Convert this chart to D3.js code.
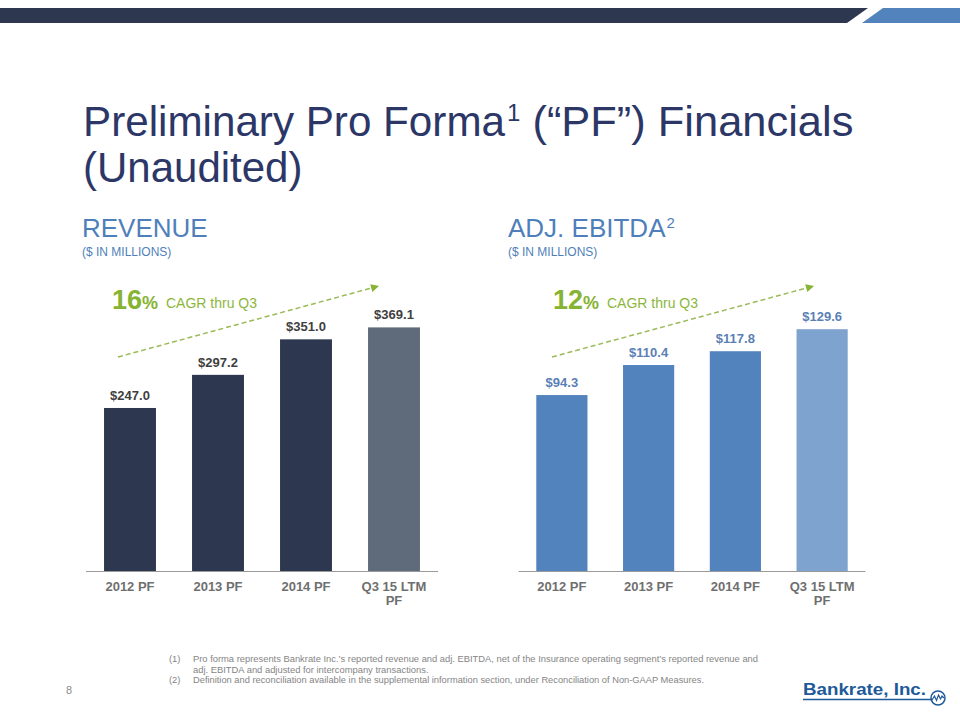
<!DOCTYPE html>
<html><head><meta charset="utf-8">
<script src="https://cdn.jsdelivr.net/npm/d3@7"></script>
<style>html,body{margin:0;padding:0;background:#fff;}svg{display:block;font-family:"Liberation Sans",Arial,sans-serif;}</style>
</head><body>
<script>
const categories = ["2012 PF", "2013 PF", "2014 PF", "Q3 15 LTM PF"];
const revenueValues = [247.0, 297.2, 351.0, 369.1];
const ebitdaValues = [94.3, 110.4, 117.8, 129.6];
const revenueCagr = "16";
const ebitdaCagr = "12";
const footnotes = [
  ["(1)", "Pro forma represents Bankrate Inc.’s reported revenue and adj. EBITDA, net of the Insurance operating segment’s reported revenue and"],
  ["", "adj. EBITDA and adjusted for intercompany transactions."],
  ["(2)", "Definition and reconciliation available in the supplemental information section, under Reconciliation of Non-GAAP Measures."]
];

const W = 960, H = 720;
const svg = d3.select("body").append("svg").attr("width", W).attr("height", H);

// top banner
svg.append("path").attr("d", "M0,8 L868,8 L847,23 L0,23 Z").attr("fill", "#2d3850");
svg.append("path").attr("d", "M883,8 L960,8 L960,23 L862,23 Z").attr("fill", "#5283bd");

// title
const t1 = svg.append("text").attr("x", 83).attr("y", 136).attr("fill", "#2c3767").attr("font-size", 42);
t1.append("tspan").attr("textLength", 422).attr("lengthAdjust", "spacingAndGlyphs").text("Preliminary Pro Forma");
t1.append("tspan").attr("font-size", 24).attr("dx", 2).attr("dy", -15).text("1");
t1.append("tspan").attr("dy", 15).attr("textLength", 333).attr("lengthAdjust", "spacingAndGlyphs").text(" (“PF”) Financials");
svg.append("text").attr("x", 83).attr("y", 182).attr("fill", "#2c3767").attr("font-size", 42).text("(Unaudited)");

function drawChart(cfg) {
  const g = svg.append("g");
  // heading
  const ht = g.append("text").attr("x", cfg.hx).attr("y", 237).attr("fill", "#4f7fba").attr("font-size", 26)
    .text(cfg.heading);
  if (cfg.sup) {
    const w = ht.node().getComputedTextLength();
    g.append("text").attr("x", cfg.hx + w + 1).attr("y", 228).attr("fill", "#4f7fba")
      .attr("font-size", 15).text(cfg.sup);
  }
  g.append("text").attr("x", cfg.hx).attr("y", 256).attr("fill", "#4f7fba").attr("font-size", 12)
    .text("($ IN MILLIONS)");

  const x = d3.scaleBand().domain(categories).range(cfg.xr).paddingInner(0.41).paddingOuter(0.205);
  const y = d3.scaleLinear().domain(cfg.domain).range([571, cfg.ytop]);

  g.selectAll("rect.bar").data(cfg.values).join("rect").attr("class", "bar")
    .attr("x", (d, i) => x(categories[i])).attr("width", x.bandwidth())
    .attr("y", d => y(d)).attr("height", d => y(0) - y(d))
    .attr("fill", (d, i) => i === 3 ? cfg.last : cfg.color);

  g.selectAll("text.val").data(cfg.values).join("text").attr("class", "val")
    .attr("x", (d, i) => x(categories[i]) + x.bandwidth() / 2).attr("y", d => y(d) - 8)
    .attr("text-anchor", "middle").attr("font-size", 13).attr("font-weight", "bold")
    .attr("fill", cfg.labelColor).text(d => "$" + d.toFixed(1));

  const ax = g.append("g").attr("transform", "translate(0,571)")
    .call(d3.axisBottom(x).tickSize(0).tickPadding(0));
  ax.select(".domain").attr("stroke", "#9a9a9a").attr("d", `M${cfg.xr[0]},0.5H${cfg.xr[1]}`);
  ax.selectAll(".tick text").attr("font-size", 13).attr("font-weight", "bold").attr("fill", "#6f6f6f")
    .attr("font-family", "Liberation Sans, Arial, sans-serif")
    .each(function(d) {
      const t = d3.select(this); t.text(null).attr("y", 0).attr("dy", null);
      const lines = d === "Q3 15 LTM PF" ? ["Q3 15 LTM", "PF"] : [d];
      lines.forEach((ln, i) => t.append("tspan").attr("x", 0).attr("y", 20 + i * 13.5).text(ln));
    });

  // CAGR annotation
  const c = g.append("text").attr("x", cfg.cx).attr("y", 309).attr("fill", "#86b332").attr("font-weight", "bold");
  c.append("tspan").attr("font-size", 27).text(cfg.cagr);
  c.append("tspan").attr("font-size", 18).text("%");
  g.append("text").attr("x", cfg.cx + 54).attr("y", 308).attr("fill", "#8cb63c").attr("font-size", 14).text("CAGR thru Q3");

  const [x1, y1, x2, y2] = cfg.arrow;
  g.append("line").attr("x1", x1).attr("y1", y1).attr("x2", x2 - 6).attr("y2", y2 + 1.6)
    .attr("stroke", "#9bbb59").attr("stroke-width", 1.5).attr("stroke-dasharray", "5,3");
  const ang = Math.atan2(y2 - y1, x2 - x1) * 180 / Math.PI;
  g.append("path").attr("d", "M0,0 L-8,-4 L-8,4 Z").attr("fill", "#86b332")
    .attr("transform", `translate(${x2},${y2}) rotate(${ang})`);
}

drawChart({ heading: "REVENUE", sup: null, hx: 82, xr: [86, 438], domain: [0, 400], ytop: 307,
  values: revenueValues, color: "#2d3850", last: "#5f6a7b", labelColor: "#3f3f3f",
  cagr: revenueCagr, cx: 112, arrow: [118, 357, 379, 286] });
drawChart({ heading: "ADJ. EBITDA", sup: "2", hx: 508, xr: [518.5, 865.5], domain: [0, 140], ytop: 309.8,
  values: ebitdaValues, color: "#5283bd", last: "#7fa3cf", labelColor: "#5b7fb5",
  cagr: ebitdaCagr, cx: 553, arrow: [552, 357, 814, 286] });

// footnotes
const fnLen = [565, null, 511];
footnotes.forEach((f, i) => {
  const yy = 662 + i * 10.5;
  if (f[0]) svg.append("text").attr("x", 169).attr("y", yy).attr("font-size", 9.4).attr("fill", "#858585").text(f[0]);
  const t = svg.append("text").attr("x", 193).attr("y", yy).attr("font-size", 9.4).attr("fill", "#858585").text(f[1]);
  if (fnLen[i]) t.attr("textLength", fnLen[i]).attr("lengthAdjust", "spacingAndGlyphs");
});

// page number
svg.append("text").attr("x", 66).attr("y", 694).attr("font-size", 11).attr("fill", "#8c8c8c").text("8");

// logo
svg.append("text").attr("x", 803).attr("y", 695).attr("font-size", 17).attr("font-weight", "bold").attr("fill", "#1e5a9a")
  .attr("textLength", 123).attr("lengthAdjust", "spacingAndGlyphs").text("Bankrate, Inc.");
svg.append("line").attr("x1", 803).attr("x2", 931).attr("y1", 699.5).attr("y2", 699.5).attr("stroke", "#1e5a9a").attr("stroke-width", 1.5);
svg.append("circle").attr("cx", 938).attr("cy", 698).attr("r", 7).attr("fill", "#fff").attr("stroke", "#1e5a9a").attr("stroke-width", 1.5);
svg.append("path").attr("d", "M932,700 L934.5,696 L936.5,700.5 L938.5,695 L940.5,699 L942,696 L944,698")
  .attr("fill", "none").attr("stroke", "#1e5a9a").attr("stroke-width", 1.2);
</script>
</body></html>
